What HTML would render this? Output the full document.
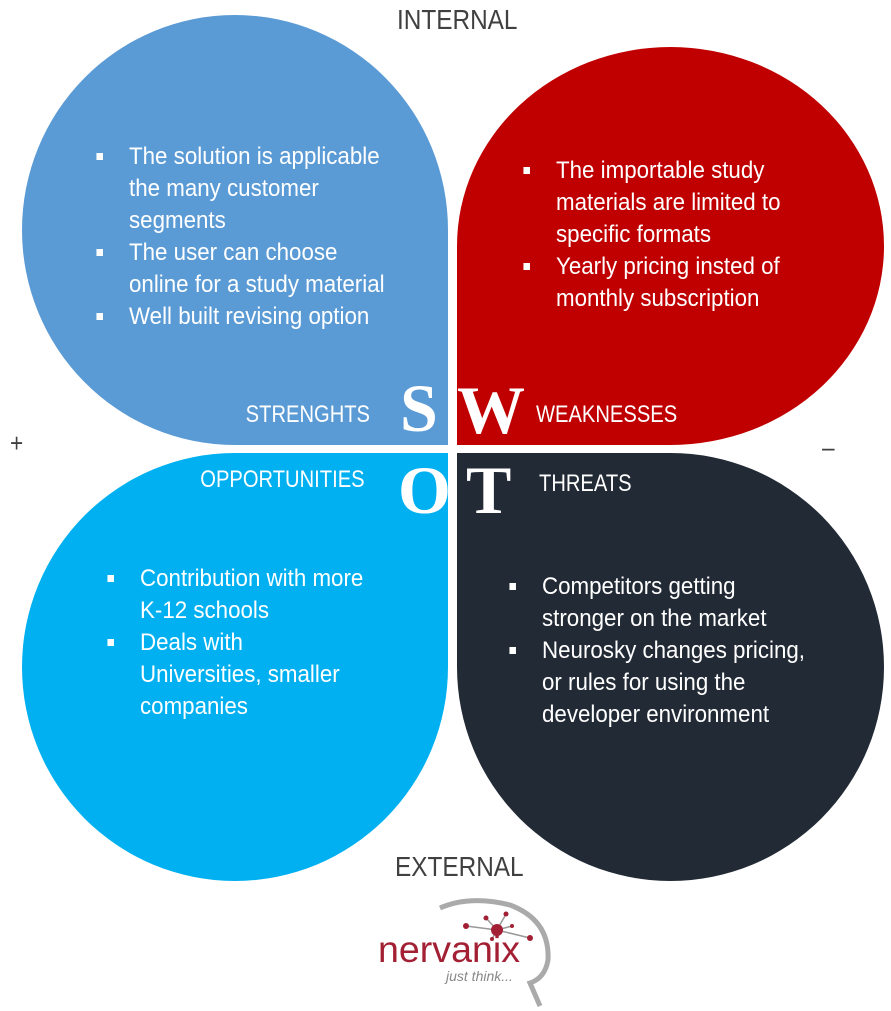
<!DOCTYPE html>
<html><head><style>
body{margin:0;width:891px;height:1011px;background:#fff;position:relative;overflow:hidden;font-family:"Liberation Sans",sans-serif}
.q{position:absolute}
.t{position:absolute;color:#fff;font-size:24px;line-height:32px;white-space:nowrap;transform:scaleX(0.84)}
.b{position:absolute;color:#fff;font-size:24px;line-height:32px;transform:scaleX(0.93);transform-origin:0 0;white-space:nowrap}
.b li{list-style:none;position:relative}
.b li:before{content:"";position:absolute;left:-35px;top:12px;width:7px;height:7px;background:#fff}
.L{position:absolute;color:#fff;font-family:"Liberation Serif",serif;font-weight:bold;font-size:68px;line-height:66px}
.g{position:absolute;color:#404040;font-size:28px;white-space:nowrap;transform:scaleX(0.87);transform-origin:0 0}
</style></head><body>
<div class="q" style="left:22px;top:15px;width:426px;height:430px;background:#5b9bd5;border-radius:50% 50% 0 50%"></div>
<div class="q" style="left:457px;top:47px;width:427px;height:398px;background:#c00000;border-radius:50% 50% 50% 0"></div>
<div class="q" style="left:22px;top:453px;width:426px;height:428px;background:#00b0f0;border-radius:50% 0 50% 50%"></div>
<div class="q" style="left:457px;top:453px;width:427px;height:428px;background:#222a35;border-radius:0 50% 50% 50%"></div>

<div class="g" style="left:397px;top:4px">INTERNAL</div>
<div class="g" style="left:395px;top:851px">EXTERNAL</div>
<div class="g" style="left:10px;top:428px;font-size:26px">+</div>
<div class="g" style="left:822px;top:432px;font-size:26px">–</div>

<ul class="b" style="left:129px;top:141px;margin:0;padding:0">
<li>The solution is applicable<br>the many customer<br>segments</li>
<li>The user can choose<br>online for a study material</li>
<li>Well built revising option</li></ul>
<ul class="b" style="left:556px;top:155px;margin:0;padding:0">
<li>The importable study<br>materials are limited to<br>specific formats</li>
<li>Yearly pricing insted of<br>monthly subscription</li></ul>
<ul class="b" style="left:140px;top:563px;margin:0;padding:0">
<li>Contribution with more<br>K-12 schools</li>
<li>Deals with<br>Universities, smaller<br>companies</li></ul>
<ul class="b" style="left:542px;top:571px;margin:0;padding:0">
<li>Competitors getting<br>stronger on the market</li>
<li>Neurosky changes pricing,<br>or rules for using the<br>developer environment</li></ul>

<div class="t" style="right:521px;top:399px;transform-origin:100% 0">STRENGHTS</div>
<div class="t" style="left:536px;top:399px;transform-origin:0 0">WEAKNESSES</div>
<div class="t" style="right:526px;top:464px;transform-origin:100% 0">OPPORTUNITIES</div>
<div class="t" style="left:539px;top:468px;transform-origin:0 0">THREATS</div>

<div class="L" style="left:400px;top:375px">S</div>
<div class="L" style="left:457px;top:377px">W</div>
<div class="L" style="left:398px;top:457px">O</div>
<div class="L" style="left:466px;top:457px">T</div>

<svg style="position:absolute;left:360px;top:880px" width="200" height="131">
<path d="M80 28 Q110 15 150 25 Q190 40 188 80 Q185 98 170 103 L180 126" fill="none" stroke="#aaa" stroke-width="5"/>
<g stroke="#999" stroke-width="1.5"><line x1="137" y1="50" x2="106" y2="46"/><line x1="137" y1="50" x2="126" y2="38"/><line x1="137" y1="50" x2="146" y2="34"/><line x1="137" y1="50" x2="152" y2="46"/><line x1="137" y1="50" x2="170" y2="58"/><line x1="137" y1="50" x2="132" y2="59"/></g>
<g fill="#a31f34"><circle cx="137" cy="50" r="6"/><circle cx="106" cy="46" r="3"/><circle cx="126" cy="38" r="2.5"/><circle cx="146" cy="34" r="2.5"/><circle cx="152" cy="46" r="2"/><circle cx="170" cy="58" r="3"/><circle cx="132" cy="59" r="2"/></g>
<text x="18" y="82" font-family="Liberation Sans" font-size="37" fill="#a31f34" textLength="142" lengthAdjust="spacingAndGlyphs">nervanix</text>
<text x="86" y="101" font-family="Liberation Sans" font-style="italic" font-size="14" fill="#888">just think...</text>
</svg>
</body></html>
